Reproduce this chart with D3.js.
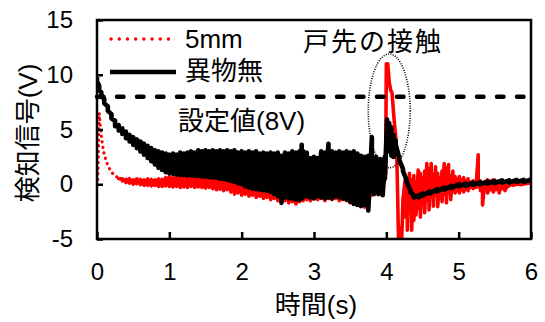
<!DOCTYPE html>
<html>
<head>
<meta charset="utf-8">
<script src="https://cdn.jsdelivr.net/npm/d3@7"></script>
<style>
  body { margin: 0; background: #fff; }
  text { font-family: 'Liberation Sans', 'Noto Sans CJK JP', sans-serif; fill: #000; }
</style>
</head>
<body>
<svg id="chart" width="545" height="322"></svg>
<script>
const xTicks = [0, 1, 2, 3, 4, 5, 6];
const yTicks = [-5, 0, 5, 10, 15];
const threshold = 8;
const seriesNames = ['5mm', '異物無'];

// rows: [time (s), high (V), low (V)]
const redRise = [
  [0.00, 0, 0], [0.01, 0, 0], [0.03, 6.5, 6.5], [0.05, 5.0, 5.0], [0.07, 3.9, 3.9],
  [0.09, 3.0, 3.0], [0.12, 2.3, 2.3], [0.15, 1.7, 1.7], [0.20, 1.1, 1.1],
  [0.25, 0.75, 0.75], [0.30, 0.6, 0.5]
];
const redBand = [
  [0.35, 0.5, 0.3], [0.40, 0.45, 0.15], [0.45, 0.5, 0.1], [0.50, 0.4, 0.0], [0.55, 0.5, 0.05],
  [0.60, 0.45, -0.05], [0.65, 0.4, -0.1], [0.70, 0.5, -0.1], [0.75, 0.45, -0.15], [0.80, 0.4, -0.1],
  [0.85, 0.5, -0.2], [0.90, 0.45, -0.2], [0.95, 0.6, -0.15], [1.00, 0.7, -0.2], [1.05, 0.6, -0.25],
  [1.10, 0.8, -0.2], [1.15, 0.7, -0.3], [1.20, 0.8, -0.25], [1.25, 0.9, -0.3], [1.30, 0.8, -0.2],
  [1.35, 0.9, -0.3], [1.40, 0.8, -0.25], [1.45, 0.85, -0.3], [1.50, 0.8, -0.35], [1.55, 1.2, -0.3],
  [1.60, 0.8, -0.4], [1.65, 0.7, -0.5], [1.70, 0.75, -0.45], [1.75, 0.6, -0.6], [1.80, 0.7, -0.5],
  [1.85, 0.5, -0.7], [1.90, 0.4, -0.9], [1.95, 0.3, -0.8], [2.00, 0.2, -1.0], [2.05, 0.1, -0.9],
  [2.10, 0.0, -1.1], [2.15, 0.0, -1.0], [2.20, -0.1, -1.2], [2.25, -0.2, -1.1], [2.30, -0.2, -1.3],
  [2.35, -0.3, -1.2], [2.40, -0.3, -1.4], [2.45, -0.4, -1.3], [2.50, -0.5, -1.5], [2.55, -0.5, -1.6],
  [2.60, -0.6, -1.5], [2.65, -0.6, -1.7], [2.70, -0.7, -1.6], [2.75, -0.7, -1.8], [2.80, -0.7, -1.6],
  [2.85, -0.6, -1.5], [2.90, -0.6, -1.4], [2.95, -0.5, -1.5], [3.00, -0.5, -1.3], [3.05, -0.5, -1.4],
  [3.10, -0.5, -1.3], [3.15, -0.6, -1.5], [3.20, -0.5, -1.3], [3.25, -0.5, -1.4], [3.30, -0.6, -1.3],
  [3.35, -0.6, -1.5], [3.40, -0.6, -1.4], [3.45, -0.7, -1.5], [3.50, -0.7, -1.7], [3.55, -0.7, -1.6],
  [3.60, -0.8, -1.9], [3.65, -0.8, -1.8], [3.70, -0.9, -2.1], [3.75, 0.0, -2.1]
];
const redContact = [
  [3.80, 0.5, -1.0], [3.85, 0.8, -0.8], [3.90, 0.6, -0.9], [3.95, 1.0, -0.5], [3.99, 1.0, 1.0],
  [4.00, 11.0, 11.0], [4.02, 11.0, 11.0], [4.04, 9.3, 9.3], [4.06, 8.6, 8.6], [4.08, 8.3, 8.3],
  [4.10, 6.5, 6.5], [4.12, 5.0, 5.0], [4.14, 3.5, 3.5], [4.15, 1.0, 1.0], [4.17, -5.6, -5.6],
  [4.19, -4.0, -4.0], [4.21, -5.6, -5.6], [4.23, -1.4, -1.4]
];
const redTail = [
  [4.26, 0.4, -3.0], [4.29, 0.3, -4.2], [4.32, 1.0, -2.0], [4.35, 0.4, -4.2], [4.38, 0.8, -3.3],
  [4.41, 0.2, -2.8], [4.44, 1.3, -2.2], [4.47, 1.0, -3.0], [4.50, 0.6, -1.8], [4.53, 1.2, -2.6],
  [4.56, 1.9, -1.5], [4.59, 1.4, -2.35], [4.62, 1.9, -1.2], [4.65, 0.9, -2.0], [4.68, 1.6, -1.0],
  [4.71, 1.0, -2.05], [4.74, 0.6, -1.3], [4.77, 1.2, -1.6], [4.80, 1.9, -0.9], [4.83, 1.5, -1.7],
  [4.86, 1.8, -0.8], [4.89, 0.8, -1.4], [4.92, 1.2, -0.6], [4.95, 0.7, -0.8], [4.98, 0.5, -0.6],
  [5.01, 0.7, -0.8], [5.04, 0.4, -0.5], [5.07, 0.6, -0.7], [5.10, 0.3, -0.4], [5.13, 0.5, -0.6],
  [5.16, 0.2, -0.3], [5.20, 0.3, -0.4], [5.24, 0.2, -0.3], [5.27, 2.7, -0.2], [5.30, 0.3, -0.6],
  [5.33, 0.1, -1.9], [5.36, 0.2, -0.4], [5.40, 0.4, -0.8], [5.44, 0.3, -0.5], [5.48, 0.4, -0.7],
  [5.52, 0.2, -0.5], [5.56, 0.3, -0.8], [5.60, 0.2, -0.4], [5.64, 0.1, -0.6], [5.68, 0.0, -0.2],
  [5.75, 0.05, -0.1], [5.85, 0.1, -0.05], [6.00, 0.15, 0.0]
];

const blackDecay = [
  [0.00, 9.8, 9.4], [0.03, 9.0, 8.6], [0.06, 8.4, 8.0], [0.10, 7.8, 7.4], [0.15, 7.1, 6.7],
  [0.20, 6.4, 6.0], [0.25, 5.8, 5.3], [0.30, 5.4, 4.9], [0.35, 5.1, 4.6], [0.40, 4.8, 4.2],
  [0.45, 4.5, 3.9], [0.50, 4.3, 3.6], [0.55, 4.1, 3.3], [0.60, 3.9, 3.0], [0.65, 3.7, 2.7],
  [0.70, 3.5, 2.4], [0.75, 3.3, 2.1], [0.80, 3.1, 1.8], [0.85, 3.0, 1.5], [0.90, 2.9, 1.3],
  [0.95, 2.8, 1.1]
];
const blackBand = [
  [1.00, 2.7, 1.0], [1.05, 2.8, 0.95], [1.10, 2.7, 0.9], [1.15, 2.9, 0.85], [1.20, 2.8, 0.85],
  [1.25, 2.9, 0.8], [1.30, 3.0, 0.8], [1.35, 2.9, 0.75], [1.40, 3.1, 0.75], [1.45, 3.0, 0.7],
  [1.50, 3.1, 0.7], [1.55, 3.0, 0.65], [1.60, 3.1, 0.6], [1.65, 3.0, 0.6], [1.70, 3.1, 0.5],
  [1.75, 3.0, 0.45], [1.80, 3.1, 0.4], [1.85, 3.0, 0.3], [1.90, 3.1, 0.2], [1.95, 2.9, 0.1],
  [2.00, 3.0, 0.0], [2.05, 2.9, -0.2], [2.10, 3.0, -0.3], [2.15, 2.9, -0.4], [2.20, 3.0, -0.45],
  [2.25, 2.8, -0.5], [2.30, 2.9, -0.55], [2.35, 2.8, -0.6], [2.40, 2.9, -0.7], [2.45, 2.8, -0.9],
  [2.50, 2.9, -1.1], [2.55, 2.6, -1.7], [2.60, 2.9, -1.2], [2.65, 2.8, -1.3], [2.70, 3.0, -1.3],
  [2.75, 2.9, -1.4], [2.80, 3.0, -1.4], [2.83, 3.6, -1.3], [2.85, 3.0, -1.2], [2.90, 2.9, -1.1],
  [2.95, 2.4, -1.2], [3.00, 2.5, -1.3], [3.05, 2.4, -1.1], [3.10, 3.0, -1.2], [3.15, 2.9, -1.3],
  [3.20, 3.7, -1.2], [3.25, 3.0, -1.3], [3.30, 2.9, -1.1], [3.35, 3.0, -1.2], [3.40, 2.9, -1.3],
  [3.45, 3.0, -1.4], [3.50, 2.9, -1.6], [3.55, 3.0, -1.8], [3.60, 2.8, -1.9], [3.65, 2.6, -2.0],
  [3.70, 2.5, -1.9], [3.75, 2.6, -2.4]
];
const blackContact = [
  [3.80, 4.3, -0.6], [3.83, 2.0, -0.9], [3.86, 2.5, -0.7], [3.89, 1.5, -0.9], [3.92, 2.3, -0.5],
  [3.95, 1.6, -1.0], [3.98, 2.5, 0.5], [4.01, 5.9, 3.5], [4.04, 5.6, 3.0], [4.07, 5.2, 2.6],
  [4.10, 4.5, 2.5], [4.13, 4.0, 3.6], [4.18, 2.4, 2.2], [4.23, 1.4, 1.2], [4.28, 0.4, 0.2],
  [4.33, -0.5, -0.7], [4.38, -1.0, -1.2]
];
const blackTail = [
  [4.45, -1.0, -1.2], [4.50, -0.85, -1.05], [4.60, -0.65, -0.85], [4.70, -0.45, -0.65],
  [4.80, -0.3, -0.5], [4.90, -0.15, -0.35], [5.00, 0.0, -0.2], [5.10, 0.05, -0.15],
  [5.20, 0.15, -0.05], [5.30, 0.2, 0.0], [5.40, 0.25, 0.05], [5.50, 0.3, 0.1],
  [5.60, 0.35, 0.15], [5.70, 0.35, 0.15], [5.80, 0.4, 0.2], [5.90, 0.4, 0.2], [6.00, 0.45, 0.25]
];

// circled region: centre (s, V) and radii (s, V)
const contactMark = { t: 4.04, v: 6.7, rt: 0.29, rv: 5.2 };

const margin = { top: 20, right: 14, bottom: 83, left: 97 };
const width = 545 - margin.left - margin.right;
const height = 322 - margin.top - margin.bottom;

const svg = d3.select('#chart');
const g = svg.append('g').attr('transform', `translate(${margin.left},${margin.top})`);

const x = d3.scaleLinear().domain([0, 6]).range([0, width]);
const y = d3.scaleLinear().domain([-5, 15]).range([height, 0]);

// turn [t, hi, lo] rows into a zig-zag trace
function zig(rows) {
  const pts = [];
  rows.forEach(r => {
    pts.push([r[0], r[1]]);
    if (r[2] !== r[1]) pts.push([r[0], r[2]]);
  });
  return pts;
}

const line = d3.line().x(d => x(d[0])).y(d => y(d[1]));

svg.append('defs').append('clipPath').attr('id', 'plot-clip')
  .append('rect').attr('width', width).attr('height', height);

const plot = g.append('g').attr('clip-path', 'url(#plot-clip)');

// 5mm (red dotted)
plot.append('path')
  .datum(zig(redRise))
  .attr('d', line)
  .attr('fill', 'none')
  .attr('stroke', '#ff0000')
  .attr('stroke-width', 3.2)
  .attr('stroke-linecap', 'round')
  .attr('stroke-dasharray', '0.1 5.5');

plot.append('path')
  .datum(zig([redRise[redRise.length - 1], ...redBand, ...redContact, ...redTail]))
  .attr('d', line)
  .attr('fill', 'none')
  .attr('stroke', '#ff0000')
  .attr('stroke-width', 3.6)
  .attr('stroke-linejoin', 'round');

// 異物無 (black)
plot.append('path')
  .datum(zig([...blackDecay, ...blackBand, ...blackContact, ...blackTail]))
  .attr('d', line)
  .attr('fill', 'none')
  .attr('stroke', '#000')
  .attr('stroke-width', 4.6)
  .attr('stroke-linejoin', 'round');

// threshold 8V
g.append('line')
  .attr('x1', x(0)).attr('x2', x(6))
  .attr('y1', y(threshold)).attr('y2', y(threshold))
  .attr('stroke', '#000')
  .attr('stroke-width', 4.5)
  .attr('stroke-linecap', 'round')
  .attr('stroke-dasharray', '6.5 13.5');

// axes
const xAxis = d3.axisBottom(x).tickValues(xTicks).tickSizeInner(-7).tickSizeOuter(0)
  .tickPadding(24).tickFormat(d => String(d));
const yAxis = d3.axisLeft(y).tickValues(yTicks).tickSizeInner(-6).tickSizeOuter(0)
  .tickPadding(24).tickFormat(d => String(d));

g.append('g').attr('transform', `translate(0,${height})`).call(xAxis)
  .call(a => a.select('.domain').remove());
g.append('g').call(yAxis)
  .call(a => a.select('.domain').remove());

g.selectAll('.tick line').attr('stroke', '#000').attr('stroke-width', 2.5);
g.selectAll('.tick text').attr('font-size', 24).attr('fill', '#000')
  .style('font-family', "'Liberation Sans', Arial, sans-serif");

g.append('rect')
  .attr('width', width).attr('height', height)
  .attr('fill', 'none').attr('stroke', '#000').attr('stroke-width', 2.5);

// ellipse round the contact
g.append('ellipse')
  .attr('cx', x(contactMark.t)).attr('cy', y(contactMark.v))
  .attr('rx', x(contactMark.rt) - x(0)).attr('ry', y(0) - y(contactMark.rv))
  .attr('fill', 'none').attr('stroke', '#000')
  .attr('stroke-width', 1.6).attr('stroke-dasharray', '1 1.4');

// legend
svg.append('line').attr('x1', 111).attr('x2', 176).attr('y1', 39).attr('y2', 39)
  .attr('stroke', '#ff0000').attr('stroke-width', 3.4)
  .attr('stroke-linecap', 'round').attr('stroke-dasharray', '0.1 8.1');
svg.append('text').attr('x', 185).attr('y', 48).attr('font-size', 26).text(seriesNames[0]);
svg.append('line').attr('x1', 110).attr('x2', 176).attr('y1', 72).attr('y2', 72)
  .attr('stroke', '#000').attr('stroke-width', 4.5);
svg.append('text').attr('x', 185).attr('y', 80).attr('font-size', 26).text(seriesNames[1]);

// annotations
svg.append('text').attr('x', 178).attr('y', 130).attr('font-size', 26).text('設定値(8V)');
svg.append('text').attr('x', 303).attr('y', 51).attr('font-size', 26)
  .attr('letter-spacing', 2).text('戸先の接触');

// axis titles
svg.append('text').attr('x', 316).attr('y', 314).attr('font-size', 26)
  .attr('text-anchor', 'middle').text('時間(s)');
svg.append('text').attr('transform', 'translate(37,133) rotate(-90)')
  .attr('font-size', 26).attr('text-anchor', 'middle').text('検知信号(V)');
</script>
</body>
</html>
